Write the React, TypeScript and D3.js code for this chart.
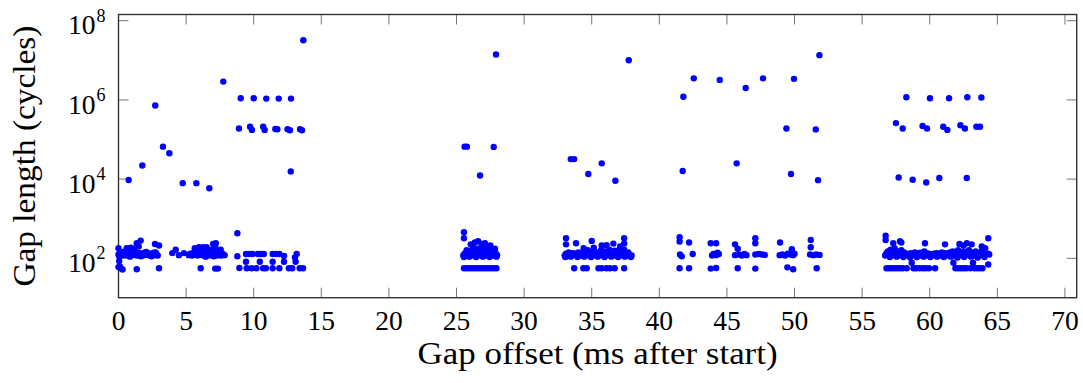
import React from "react";
import * as d3 from "d3";

// [offset in ms, gap length in cycles]
const longGaps: [number, number][] = [
  [0.75, 9500], [1.76, 22000], [2.72, 720000], [3.29, 66000], [3.76, 45000], [4.75, 7900], [5.76, 7900], [6.72, 5900],
  [7.75, 2.9e6], [8.91, 190000], [9.04, 1.1e6], [9.73, 210000], [9.87, 175000], [10.0, 1.1e6], [10.7, 210000],
  [10.81, 175000], [10.93, 1.08e6], [11.6, 185000], [11.75, 182000], [11.85, 1.08e6], [12.5, 182000], [12.68, 172000],
  [12.74, 15500], [12.76, 1.08e6], [13.43, 182000], [13.57, 172000], [13.67, 3.2e7],
  [25.6, 66000], [25.77, 66000], [26.74, 12300], [27.75, 65000], [27.92, 1.4e7],
  [33.45, 32000], [33.7, 32000], [34.75, 13400], [35.74, 25000], [36.75, 9100], [37.74, 1.0e7],
  [41.73, 16000], [41.78, 1.2e6], [42.55, 3.5e6], [44.47, 3.2e6], [45.72, 25000], [46.39, 2.0e6], [47.67, 3.5e6],
  [49.4, 190000], [49.74, 13500], [49.96, 3.4e6], [51.57, 180000], [51.74, 9400], [51.84, 1.35e7],
  [57.5, 260000], [57.7, 11000], [58.0, 190000], [58.27, 1.17e6], [58.74, 9600], [59.47, 220000], [59.74, 8200],
  [59.8, 190000], [60.02, 1.1e6], [60.71, 10700], [61.0, 210000], [61.3, 175000], [61.43, 1.1e6], [62.27, 230000],
  [62.6, 190000], [62.74, 10700], [62.78, 1.17e6], [63.45, 210000], [63.72, 210000], [63.82, 1.15e6],
];

const shortGaps: [number, number][] = [
  // 0 - 8 ms
  [0.0, 125], [0.1, 135], [0.2, 118], [0.3, 130], [0.4, 122], [0.5, 138], [0.6, 120], [0.7, 128], [0.8, 135],
  [0.9, 118], [1.0, 126], [1.1, 140], [1.2, 120], [1.3, 130], [1.4, 118], [1.5, 136], [1.6, 124], [1.7, 130],
  [1.8, 118], [1.9, 138], [2.0, 122], [2.1, 128], [2.2, 135], [2.3, 118], [2.4, 130], [2.5, 124], [2.6, 138],
  [2.7, 120], [2.8, 128], [2.9, 118], [0.05, 112], [0.35, 145], [0.85, 110], [1.25, 150], [1.65, 112],
  [2.05, 145], [2.45, 112], [2.75, 140], [0.0, 180], [0.6, 180], [0.9, 185], [1.1, 175], [1.35, 240], [1.64, 280],
  [1.5, 200], [2.7, 230], [3.0, 210], [3.98, 135], [4.23, 165], [4.47, 120], [4.84, 135],
  [5.2, 120], [5.3, 130], [5.45, 118], [5.55, 138], [5.7, 125], [5.85, 118], [5.95, 135], [6.05, 122], [6.15, 130],
  [6.3, 118], [6.4, 140], [6.5, 125], [6.6, 118], [6.7, 135], [6.8, 128], [6.9, 118], [7.0, 138], [7.1, 122],
  [7.2, 130], [7.3, 118], [7.4, 135], [7.5, 125], [7.6, 118], [7.7, 130], [7.85, 120], [5.75, 150], [6.25, 148],
  [6.75, 150], [7.25, 148], [6.45, 110], [7.05, 112], [5.64, 180], [5.95, 190], [6.26, 190], [6.52, 190],
  [6.9, 165], [7.0, 230], [7.2, 240], [7.15, 195], [7.37, 160], [7.56, 165],
  // 8.8 - 14 ms
  [8.79, 430], [8.79, 113], [9.43, 128], [9.68, 128], [9.9, 128], [10.3, 128], [10.5, 128], [10.75, 128],
  [11.4, 128], [11.65, 128], [11.9, 128], [12.24, 114], [13.05, 105], [13.18, 128],
  // 25 - 28 ms
  [25.55, 455], [25.55, 320], [26.05, 225], [26.35, 250], [26.6, 270], [26.85, 230], [27.1, 240], [27.5, 210],
  [27.85, 175], [26.2, 195], [27.3, 190],
  [25.5, 118], [25.6, 130], [25.7, 140], [25.8, 120], [25.9, 128], [26.0, 150], [26.1, 118], [26.2, 135],
  [26.3, 160], [26.4, 122], [26.5, 140], [26.6, 118], [26.7, 130], [26.8, 165], [26.9, 120], [27.0, 145],
  [27.1, 128], [27.2, 118], [27.3, 155], [27.4, 130], [27.5, 120], [27.6, 140], [27.7, 118], [27.8, 128],
  [27.9, 135], [28.0, 120], [25.55, 108], [25.95, 110], [26.45, 108], [26.95, 110], [27.45, 108], [27.95, 110],
  [26.25, 180], [26.55, 175], [27.05, 185], [27.65, 170], [25.75, 160],
  // 33 - 38 ms
  [33.1, 320], [33.1, 225], [33.84, 240], [35.0, 275], [35.74, 210], [36.1, 215], [36.6, 235], [37.4, 320],
  [37.4, 235], [34.4, 180], [35.15, 185], [37.1, 200],
  [33.0, 118], [33.1, 130], [33.2, 122], [33.3, 140], [33.4, 118], [33.5, 128], [33.6, 135], [33.7, 120],
  [33.8, 130], [33.9, 118], [34.0, 140], [34.1, 125], [34.2, 118], [34.3, 135], [34.4, 150], [34.5, 120],
  [34.6, 130], [34.7, 160], [34.8, 118], [34.9, 140], [35.0, 125], [35.1, 118], [35.2, 150], [35.3, 130],
  [35.4, 118], [35.5, 140], [35.6, 125], [35.7, 160], [35.8, 118], [35.9, 135], [36.0, 150], [36.1, 120],
  [36.2, 130], [36.3, 165], [36.4, 118], [36.5, 140], [36.6, 125], [36.7, 155], [36.8, 118], [36.9, 130],
  [37.0, 160], [37.1, 122], [37.2, 140], [37.3, 118], [37.4, 165], [37.5, 128], [37.6, 118], [37.7, 140],
  [37.8, 125], [37.95, 118], [33.05, 108], [33.45, 110], [33.95, 108], [34.45, 110], [34.95, 108], [35.45, 110],
  [35.95, 108], [36.45, 110], [36.95, 108], [37.45, 110], [37.9, 108],
  // 41 - 52 ms
  [41.5, 340], [41.5, 265], [42.2, 250], [41.53, 125], [41.66, 112], [42.47, 128],
  [43.8, 240], [44.2, 240], [44.0, 128], [44.2, 120], [44.4, 128], [43.9, 118], [44.3, 138],
  [45.6, 225], [45.8, 175], [45.6, 120], [45.9, 125], [46.1, 118], [46.3, 128], [46.45, 120],
  [47.1, 320], [47.1, 240], [47.1, 125], [47.35, 128], [47.6, 125], [47.8, 122],
  [48.93, 250], [48.9, 120], [49.1, 125], [49.3, 118], [49.5, 130], [49.7, 125], [49.9, 120], [50.0, 130],
  [49.8, 170], [51.2, 290], [51.2, 190], [51.15, 125], [51.4, 120], [51.6, 125], [51.85, 122],
  // 56 - 65 ms
  [56.74, 370], [56.74, 290], [57.3, 240], [57.8, 270], [57.9, 250], [59.65, 240], [61.13, 225], [62.2, 230],
  [62.5, 210], [62.74, 240], [63.1, 225], [63.85, 200], [64.1, 180], [64.33, 320], [64.33, 130],
  [56.7, 118], [56.8, 135], [56.9, 150], [57.0, 125], [57.1, 165], [57.2, 118], [57.3, 140], [57.4, 180],
  [57.5, 128], [57.6, 150], [57.7, 118], [57.8, 135], [57.9, 160], [58.0, 122], [58.1, 140], [58.2, 118],
  [58.3, 130], [58.5, 120], [58.6, 135], [58.7, 118], [58.8, 128], [58.9, 140], [59.0, 118], [59.1, 130],
  [59.2, 122], [59.3, 138], [59.4, 118], [59.5, 128], [59.6, 150], [59.7, 120], [59.8, 135], [59.9, 118],
  [60.0, 128], [60.1, 122], [60.3, 130], [60.4, 118], [60.5, 135], [60.6, 122], [60.7, 130], [60.8, 118],
  [60.9, 140], [61.0, 125], [61.1, 118], [61.2, 135], [61.3, 128], [61.4, 118], [61.5, 140], [61.6, 125],
  [61.7, 150], [61.8, 118], [61.9, 135], [62.0, 125], [62.1, 160], [62.2, 118], [62.3, 140], [62.4, 128],
  [62.5, 150], [62.6, 118], [62.7, 135], [62.8, 125], [62.9, 160], [63.0, 118], [63.1, 140], [63.2, 128],
  [63.3, 118], [63.4, 150], [63.5, 130], [63.6, 118], [63.7, 140], [63.8, 125], [63.9, 160], [64.0, 118],
  [64.1, 135], [64.4, 125], [57.05, 108], [57.55, 110], [58.05, 108], [58.55, 105], [59.05, 108], [59.55, 110],
  [60.05, 108], [60.55, 110], [61.05, 108], [61.55, 110], [62.05, 105], [62.55, 108], [63.05, 110], [63.55, 105],
  [64.05, 108],
];

const tinyGaps: [number, number][] = [
  [0.05, 85], [0.1, 62], [0.2, 55], [0.3, 52], [0.0, 60], [1.35, 53], [3.0, 56], [6.08, 56], [7.15, 55], [7.35, 55],
  [8.94, 57], [9.48, 56], [9.85, 56], [10.2, 56], [10.7, 56], [10.9, 56], [11.4, 56], [11.9, 56], [12.6, 56],
  [12.85, 56], [13.4, 56], [13.65, 56], [9.43, 82], [10.45, 82], [11.4, 82], [12.24, 82], [13.1, 82],
  [25.55, 56], [25.75, 56], [25.95, 56], [26.15, 56], [26.35, 56], [26.55, 56], [26.75, 56], [26.95, 56],
  [27.15, 56], [27.35, 56], [27.55, 56], [27.75, 56], [27.95, 56],
  [33.7, 56], [34.38, 56], [34.63, 56], [35.5, 56], [35.74, 56], [36.1, 56], [36.35, 56], [36.7, 56], [37.4, 56],
  [41.5, 56], [42.2, 56], [43.8, 55], [44.2, 57], [45.8, 56], [47.1, 55], [49.47, 59], [49.9, 53], [51.64, 56],
  [56.8, 56], [57.0, 56], [57.2, 56], [57.4, 56], [57.6, 56], [57.8, 56], [58.0, 56], [58.3, 56], [58.8, 56],
  [59.0, 56], [59.25, 56], [59.5, 56], [59.7, 56], [59.95, 56], [60.4, 56], [61.9, 56], [62.1, 56], [62.3, 56],
  [62.5, 56], [62.7, 56], [63.0, 56], [63.3, 56], [63.5, 56], [63.7, 56], [63.9, 56],
  [58.67, 77], [61.75, 77], [63.2, 77], [64.33, 70],
];

const xTicks = [0, 5, 10, 15, 20, 25, 30, 35, 40, 45, 50, 55, 60, 65, 70];
const yTickExponents = [2, 4, 6, 8];
const xLabel = "Gap offset (ms after start)";
const yLabel = "Gap length (cycles)";

export default function App() {
  const W = 1083, H = 383;
  const left = 118.5, right = 1076.7, top = 14.5, bottom = 297.7;
  const x = d3.scaleLinear().domain([0, 70.87]).range([left, right]);
  const y = d3.scaleLog().domain([Math.pow(10, 1.005), Math.pow(10, 8.157)]).range([bottom, top]);
  const font = "Liberation Serif";
  const tickLen = 10;
  const all = [...tinyGaps, ...shortGaps, ...longGaps];
  return (
    <svg width={W} height={H} style={{ position: "absolute", left: 0, top: 0, background: "#fff" }}>
      <rect x={0} y={0} width={W} height={H} fill="#fff" />
      {xTicks.map((t) => (
        <g key={"x" + t}>
          <line x1={x(t)} x2={x(t)} y1={bottom} y2={bottom - tickLen} stroke="#777" strokeWidth={1} />
          <line x1={x(t)} x2={x(t)} y1={top} y2={top + tickLen} stroke="#777" strokeWidth={1} />
          <text x={x(t)} y={330} fontFamily={font} fontSize={27.5} textAnchor="middle" fill="#000">{t}</text>
        </g>
      ))}
      {yTickExponents.map((e) => {
        const yy = y(Math.pow(10, e));
        return (
          <g key={"y" + e}>
            <line x1={left} x2={left + tickLen} y1={yy} y2={yy} stroke="#777" strokeWidth={1} />
            <line x1={right} x2={right - tickLen} y1={yy} y2={yy} stroke="#777" strokeWidth={1} />
            <text x={95.5} y={yy + 13.6} fontFamily={font} fontSize={27.5} textAnchor="end" fill="#000">10</text>
            <text x={96.5} y={yy + 1} fontFamily={font} fontSize={18} textAnchor="start" fill="#000">{e}</text>
          </g>
        );
      })}
      <rect x={left} y={top} width={right - left} height={bottom - top} fill="none" stroke="#333" strokeWidth={1.4} />
      {all.map((d, i) => (
        <circle key={i} cx={x(d[0])} cy={y(d[1])} r={3.2} fill="#0000ff" />
      ))}
      <text x={(left + right) / 2} y={364} fontFamily={font} fontSize={31} textAnchor="middle" fill="#000"
        textLength={360} lengthAdjust="spacingAndGlyphs">{xLabel}</text>
      <text transform={`translate(34.5,${(top + bottom) / 2}) rotate(-90)`} fontFamily={font} fontSize={31}
        textAnchor="middle" fill="#000" textLength={261} lengthAdjust="spacingAndGlyphs">{yLabel}</text>
    </svg>
  );
}
